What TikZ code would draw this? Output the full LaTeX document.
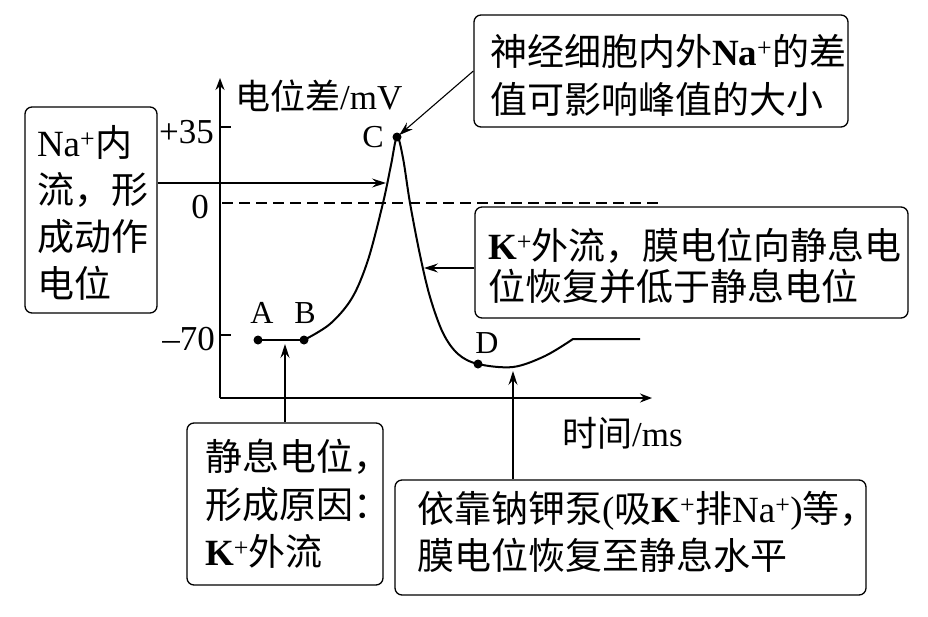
\documentclass[tikz,border=0pt]{standalone}
\usepackage{fontspec}
\setmainfont{Liberation Serif}
\newfontfamily\cjk{Noto Sans CJK SC}
\usetikzlibrary{arrows.meta}
\newcommand{\zh}[1]{{\cjk #1}}
\newcommand{\ionplus}[0]{\textsuperscript{+}}

\begin{document}
\begin{tikzpicture}[x=1pt, y=-1pt]
  \tikzset{note/.style={draw, line width=1.3pt, rounded corners=7pt, align=left, inner ysep=0pt}}
  \tikzset{pointer/.style={-{Stealth[length=14pt,width=9pt,inset=5pt]}, line width=1.1pt}}
  \tikzset{axis/.style={-{Stealth[length=12pt,width=9pt]}, line width=1.8pt}}
  \tikzset{mark label/.style={inner sep=0pt, anchor=base, font=\fontsize{32}{32}\selectfont}}
  \tikzset{tick label/.style={inner sep=0pt, anchor=base east, font=\fontsize{35}{35}\selectfont}}
  \useasboundingbox (0,0) rectangle (928,616);
  % axes
  \coordinate (O) at (220,398);
  \draw[axis] (O) -- (220,78);
  \draw[axis] (O) -- (652,398);
  \node[inner sep=0pt, anchor=base west, font=\fontsize{35}{35}\selectfont] (ylabel) at (235,109) {\zh{电位差}/mV};
  \node[inner sep=0pt, anchor=base west, font=\fontsize{35}{35}\selectfont] (xlabel) at (562,446) {\zh{时间}/ms};
  \draw[line width=1.3pt] (220,127) -- (231,127);
  \draw[line width=1.3pt] (220,335) -- (231,335);
  \draw[line width=1.5pt, dash pattern=on 11pt off 6pt] (222,203) -- (660,203);
  \node[tick label] (t35) at (214,143) {+35};
  \node[tick label] (t0) at (209,218) {0};
  \node[tick label] (t70) at (215,350) {\textendash 70};
  % the curve
  \coordinate (A) at (258,340);
  \coordinate (B) at (304,340);
  \coordinate (C) at (397,137);
  \coordinate (D) at (478,364);
  \draw[line width=2pt] (A) -- (B);
  \draw[line width=2pt] plot[smooth, tension=0.55] coordinates {(B) (330,324) (352,298) (368,260) (383,203) (391,165) (C) (403,158) (410,203) (420,255) (430,297) (443,333) (458,354) (D) (513,367) (545,356) (573,339)} -- (640,339);
  \foreach \p in {A,B,C,D}
    \fill (\p) circle (4.5pt);
  \node[mark label] (Alabel) at (262,323) {A};
  \node[mark label] (Blabel) at (305,323) {B};
  \node[mark label] (Clabel) at (373,147) {C};
  \node[mark label] (Dlabel) at (487,353) {D};
  % notes
  \node[note, inner xsep=16pt, text width=342pt, minimum height=112pt, font=\fontsize{37}{48}\selectfont] (peakbox) at (661,71)
    {\rule{0pt}{40pt}\zh{神经细胞内外}\textbf{Na}\ionplus\zh{的差}\\\zh{值可影响峰值的大小}};
  \node[note, inner xsep=12pt, text width=108pt, minimum height=206pt, font=\fontsize{37}{47}\selectfont] (nabox) at (91,210)
    {\rule{0pt}{36pt}Na\ionplus\zh{内}\\\zh{流，形}\\\zh{成动作}\\\zh{电位}};
  \node[note, inner xsep=13pt, text width=407pt, minimum height=111pt, font=\fontsize{37}{41}\selectfont] (kbox) at (691.5,262.5)
    {\rule{0pt}{39pt}\textbf{K}\ionplus\zh{外流，膜电位向静息电}\\\zh{位恢复并低于静息电位}};
  \node[note, inner xsep=18pt, text width=160pt, minimum height=162pt, font=\fontsize{37}{47.5}\selectfont] (restbox) at (285,504)
    {\zh{静息电位，}\\\zh{形成原因：}\\\textbf{K}\ionplus\zh{外流}};
  \node[note, inner xsep=22pt, text width=427pt, minimum height=115pt, font=\fontsize{37}{47}\selectfont] (pumpbox) at (630.5,537.5)
    {\zh{依靠钠钾泵}(\zh{吸}\textbf{K}\ionplus\zh{排}Na\ionplus)\zh{等，}\\\zh{膜电位恢复至静息水平}\rule[-15pt]{0pt}{1pt}};
  % connectors
  \coordinate (rise) at (386,183);
  \coordinate (fall) at (424,268);
  \coordinate (rest) at (285,344);
  \coordinate (low) at (513,371);
  \draw[pointer, shorten >=3pt] (peakbox.west) -- (C);
  \draw[pointer] (nabox.east |- rise) -- (rise);
  \draw[pointer] (kbox.west |- fall) -- (fall);
  \draw[pointer] (restbox.north) -- (rest);
  \draw[pointer] (pumpbox.north -| low) -- (low);
\end{tikzpicture}
\end{document}
